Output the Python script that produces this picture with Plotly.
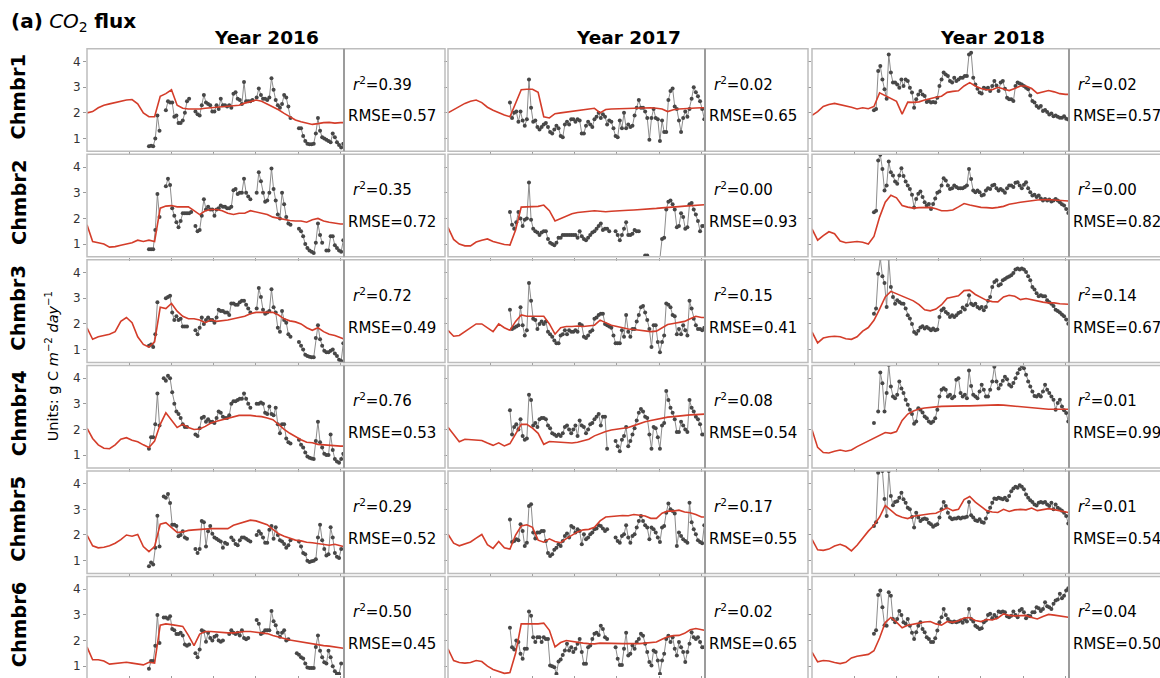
import plotly.graph_objects as go

FIG_W, FIG_H = 1160, 678

YEAR_TITLES = ["Year 2016", "Year 2017", "Year 2018"]
CHAMBERS = ["Chmbr1", "Chmbr2", "Chmbr3", "Chmbr4", "Chmbr5", "Chmbr6"]

# goodness-of-fit statistics per chamber (rows) for each year
R2_2016 = [0.39, 0.35, 0.72, 0.76, 0.29, 0.50]
R2_2017 = [0.02, 0.00, 0.15, 0.08, 0.17, 0.02]
R2_2018 = [0.02, 0.00, 0.14, 0.01, 0.01, 0.04]
RMSE_2016 = [0.57, 0.72, 0.49, 0.53, 0.52, 0.45]
RMSE_2017 = [0.65, 0.93, 0.41, 0.54, 0.55, 0.65]
RMSE_2018 = [0.57, 0.82, 0.67, 0.99, 0.54, 0.50]

# day-of-year sampling of observations and of the model output
OBS_DAYS = list(range(88, 365, 3))
MODEL_DAYS = list(range(0, 361, 8)) + [364]

X_TICKS = [60, 120, 180, 240, 300, 360]
Y_TICKS = [1, 2, 3, 4]

# ---------------- 2016 ----------------
MOD_2016_C1 = [2.0, 2.05, 2.2, 2.3, 2.35, 2.4, 2.45, 2.5, 2.52, 2.35,
               2.0, 1.85, 1.85, 2.65, 2.75, 2.9, 2.3, 2.18, 2.15, 2.15,
               2.15, 2.18, 2.2, 2.22, 2.22, 2.25, 2.28, 2.3, 2.38, 2.45,
               2.5, 2.45, 2.35, 2.25, 2.12, 1.98, 1.85, 1.72, 1.65, 1.6,
               1.55, 1.58, 1.62, 1.63, 1.6, 1.62, 1.62]
OBS_2016_C1 = [0.7, 0.72, 0.7, 1.0, 1.9, 1.3, None, None, 2.1, 2.45,
               2.4, 2.4, 1.85, 1.9, 1.6, 1.6, 1.7, 2.0, 2.45, 2.55,
               None, None, 2.05, 1.95, 1.9, 2.3, 2.7, 2.4, 2.35, 2.3,
               2.05, 2.05, 2.3, 2.15, 2.55, 2.3, 2.3, 2.25, 2.3, 2.2,
               2.75, 2.8, 2.55, 2.5, 2.35, 3.2, 2.45, 2.45, 2.45, 2.5,
               None, 2.6, 2.95, 2.7, 2.55, 2.55, 2.5, 2.6, 3.35, 2.9,
               2.5, 2.3, 2.2, 2.35, 2.7, 2.6, 2.25, 1.8, None, None,
               None, 1.4, 1.4, 1.1, 0.9, 0.8, 0.78, 0.78, 0.8, 1.2,
               1.8, 1.3, 1.05, 1.0, 0.95, 0.9, 0.85, 1.2, 1.05, 0.85,
               0.75, 0.65, 0.8]

MOD_2016_C2 = [1.75, 1.1, 1.05, 1.0, 0.88, 0.9, 0.95, 1.0, 1.05, 1.15,
               1.1, 1.15, 1.1, 2.4, 2.48, 2.5, 2.45, 2.45, 2.45, 2.3,
               2.15, 2.3, 2.35, 2.35, 2.3, 2.2, 2.15, 2.2, 2.2, 2.3,
               2.25, 2.2, 2.15, 2.05, 2.0, 1.95, 1.92, 1.9, 1.9, 1.85,
               1.95, 2.0, 1.9, 1.85, 1.8, 1.78, 1.78]
OBS_2016_C2 = [0.8, 0.8, 0.8, 1.55, 2.95, 2.05, None, None, 3.25, 3.55,
               3.3, 2.4, 2.1, 1.85, 1.65, 1.9, 2.2, 2.2, 2.2, 2.2,
               2.25, None, 1.7, 1.5, 1.55, 2.1, 2.75, 2.35, 2.45, 2.35,
               2.35, 2.1, 2.35, 2.4, 2.5, 2.45, 2.45, 2.4, 2.4, 2.45,
               3.1, 3.15, 2.95, 3.0, 3.0, 3.55, 3.0, 2.85, 2.75, None,
               None, 3.0, 3.8, 3.45, 3.0, 2.65, 2.7, 3.0, 3.95, 3.15,
               2.7, 2.15, 2.0, 3.0, 2.55, 2.05, 1.8, 1.75, None, None,
               None, 1.6, 1.5, 1.3, 1.0, 0.85, 0.75, 0.7, 0.65, 1.05,
               1.8, 1.35, 1.05, None, 0.75, 0.75, 1.3, 1.3, 0.95, 0.85,
               0.75, 0.7, 1.15]

MOD_2016_C3 = [1.85, 1.4, 1.5, 1.55, 1.6, 1.7, 2.1, 2.25, 2.05, 1.5,
               1.2, 1.1, 1.3, 2.65, 2.6, 2.8, 2.5, 2.3, 2.2, 2.2,
               2.15, 2.05, 2.15, 2.1, 2.12, 2.15, 2.2, 2.25, 2.3, 2.4,
               2.45, 2.45, 2.45, 2.45, 2.35, 2.2, 2.12, 2.08, 2.0, 1.85,
               1.75, 1.85, 1.7, 1.6, 1.55, 1.45, 1.42]
OBS_2016_C3 = [1.15, 1.2, 1.1, 1.6, 2.85, None, None, None, 3.0, 3.05,
               3.1, 2.45, 2.15, 2.3, 2.15, 2.2, 1.9, 1.9, 1.9, None,
               None, None, 1.75, 1.6, 1.85, 2.25, 2.0, 2.15, 2.25, 2.15,
               2.15, 2.05, 2.25, 2.55, 2.5, 2.5, 2.45, 2.45, 2.35, 2.8,
               2.8, 2.75, 2.75, 2.85, 2.9, 2.9, 2.75, 2.6, 2.45, None,
               None, 2.6, 3.4, 3.05, 2.55, 2.4, 2.45, 2.5, 3.35, 2.65,
               2.45, 1.85, 1.7, 2.5, 2.15, 2.05, 1.6, 1.5, None, None,
               None, 1.3, 1.15, 1.0, 0.8, 0.75, 0.72, 0.7, 0.7, 1.45,
               1.95, 1.4, 1.15, 0.95, 0.9, 0.9, 0.95, 1.0, 0.85, 0.75,
               0.6, 0.55, 1.25]

MOD_2016_C4 = [2.05, 1.65, 1.4, 1.27, 1.25, 1.4, 1.62, 1.68, 1.58, 1.52,
               1.4, 1.3, 1.55, 2.2, 2.65, 2.35, 2.08, 2.2, 2.08, 2.0,
               2.02, 2.12, 2.25, 2.32, 2.38, 2.45, 2.52, 2.55, 2.55, 2.55,
               2.52, 2.5, 2.45, 2.38, 2.2, 2.0, 1.85, 1.72, 1.6, 1.5,
               1.48, 1.42, 1.4, 1.37, 1.35, 1.35, 1.35]
OBS_2016_C4 = [1.25, 1.7, 1.7, 2.2, 3.4, 2.15, None, 4.0, 3.9, 4.1,
               4.0, 3.45, 3.0, 2.7, 2.6, 2.45, 2.2, 2.1, 2.1, None,
               None, None, 1.8, 1.75, 2.05, 2.45, 2.5, 2.3, 2.4, 2.3,
               2.3, 2.25, 2.45, 2.7, 2.65, 2.5, 2.45, 2.45, 2.55, 3.0,
               3.1, 3.1, 3.15, 3.2, 3.2, 3.4, 3.2, 3.0, 2.85, None,
               None, 3.0, 3.0, 3.05, 3.0, 2.65, 2.6, 2.9, 2.6, 2.55,
               2.85, 2.2, 1.85, 2.2, 2.2, 1.65, 1.5, 1.45, None, None,
               None, 1.6, 1.4, 1.3, 1.1, 0.95, 0.9, 0.87, 0.85, 1.55,
               2.3, 1.5, 1.3, 1.05, 1.0, 1.0, 1.8, 1.2, 0.85, 0.75,
               0.7, 0.85, 1.05]

MOD_2016_C5 = [2.0, 1.58, 1.5, 1.52, 1.58, 1.68, 1.82, 2.0, 1.95, 2.02,
               1.55, 1.35, 1.55, 2.42, 2.48, 2.3, 2.1, 2.12, 2.18, 2.2,
               2.22, 2.24, 2.25, 2.25, 2.25, 2.25, 2.38, 2.45, 2.52, 2.58,
               2.55, 2.48, 2.4, 2.22, 2.05, 1.95, 1.88, 1.8, 1.77, 1.72,
               1.7, 1.66, 1.63, 1.6, 1.64, 1.57, 1.55]
OBS_2016_C5 = [0.78, 0.93, 0.85, 1.5, 2.75, 1.55, None, 3.5, 3.45, 3.6,
               3.25, 2.4, 2.4, 2.35, 1.95, 2.0, 2.15, 1.9, 1.85, None,
               None, None, 1.45, 1.3, 1.45, 2.55, 2.5, 1.55, 2.15, 2.35,
               2.05, 1.9, 1.85, 1.8, 1.75, 1.5, 1.7, 1.65, None, 1.9,
               1.8, 1.65, 1.6, 1.8, 1.9, 1.9, 1.85, 1.8, 1.75, None,
               None, 2.0, 2.15, 2.05, 1.9, 1.7, 1.7, 2.2, 2.35, 1.85,
               2.3, 2.0, 1.8, 1.75, 1.65, 1.5, 1.6, 1.8, None, None,
               None, 1.75, 1.55, 1.3, 1.25, 1.0, 0.95, 0.98, 1.0, 1.05,
               1.9, 2.4, 1.8, 1.45, 1.2, 1.25, 2.3, 1.9, 1.3, 1.15,
               1.1, 1.45, None]

MOD_2016_C6 = [1.75, 1.25, 1.25, 1.2, 1.08, 1.1, 1.13, 1.15, 1.12, 1.08,
               1.05, 1.15, 1.12, 2.6, 2.65, 2.62, 2.58, 2.55, 2.2, 1.8,
               2.25, 2.35, 2.35, 2.33, 2.3, 2.3, 2.3, 2.33, 2.35, 2.35,
               2.33, 2.3, 2.27, 2.2, 2.15, 2.08, 2.02, 1.98, 1.95, 1.9,
               1.85, 1.83, 1.8, 1.78, 1.75, 1.72, 1.7]
OBS_2016_C6 = [0.9, 1.2, 1.2, 1.8, 3.0, 1.9, None, 2.9, 2.9, 2.85,
               2.95, 2.45, 2.4, 2.25, 2.25, 2.3, 2.2, 1.85, 1.8, 1.85,
               None, None, 1.5, 1.35, 1.65, 2.4, 2.35, 1.95, 2.3, 2.1,
               2.0, 2.15, 2.2, 2.0, 1.95, 2.0, None, None, 2.25, 2.4,
               2.3, 2.25, 2.3, 2.2, 2.4, 2.1, 2.05, 2.1, None, None,
               None, 2.8, 2.65, 2.25, 2.3, 2.4, 2.4, 2.4, 3.15, 2.75,
               2.6, 2.3, 2.15, 2.3, 2.4, 2.0, 2.05, None, None, None,
               1.5, 1.45, 1.35, 1.3, 1.1, 0.95, 0.93, 0.93, 0.93, 1.75,
               2.2, 1.6, 1.35, 1.15, 1.1, 1.6, 1.35, 1.0, 0.8, 0.7,
               0.7, 1.1, None]

# ---------------- 2017 ----------------
MOD_2017_C1 = [2.0, 2.12, 2.27, 2.37, 2.45, 2.5, 2.4, 2.22, 2.1, 2.0,
               1.92, 1.85, 2.35, 2.9, 2.92, 2.92, 2.8, 1.85, 1.8, 1.97,
               2.0, 2.03, 2.06, 2.1, 2.12, 2.15, 2.18, 2.0, 2.13, 2.15,
               2.16, 2.16, 2.16, 2.18, 2.2, 2.2, 2.2, 2.18, 2.15, 2.05,
               2.12, 2.15, 2.17, 2.18, 2.19, 2.2, 2.2]
OBS_2017_C1 = [2.4, 1.8, 2.0, 2.05, 1.65, 2.05, 1.7, 1.5, 1.75, 3.3,
               2.2, 1.65, 1.7, 1.45, 1.35, 1.45, 1.55, 1.6, 1.45, 1.25,
               1.2, 1.35, 1.5, 1.4, 1.1, 1.05, 1.55, 1.65, 1.55, 1.75,
               1.75, 1.65, 1.75, 1.7, 1.2, 1.2, 1.5, 1.65, 1.55, 1.45,
               1.75, 1.85, 2.0, 1.8, 1.95, 1.85, 1.55, 1.7, 1.65, 1.4,
               1.1, 1.05, 1.7, 1.4, 2.0, 1.4, 1.55, 1.45, 1.5, 1.9,
               2.2, 2.5, 2.2, 2.2, 2.05, 1.8, 0.95, 1.8, 2.15, 1.8,
               1.75, 0.9, 1.7, 1.25, 1.25, 2.5, 2.85, 2.95, 2.25, 2.15,
               1.7, 1.25, 1.8, 2.05, 1.85, 2.15, 2.55, 3.0, 2.8, 2.65,
               2.45, 2.15, 1.75]

MOD_2017_C2 = [1.65, 1.18, 1.0, 0.93, 0.93, 1.08, 1.15, 1.2, 1.1, 1.04,
               0.98, 0.96, 1.55, 2.44, 2.45, 2.46, 2.47, 2.52, 2.3, 1.9,
               2.0, 2.11, 2.18, 2.23, 2.26, 2.28, 2.3, 2.28, 2.26, 2.28,
               2.3, 2.3, 2.32, 2.33, 2.34, 2.36, 2.38, 2.39, 2.41, 2.42,
               2.44, 2.46, 2.48, 2.5, 2.51, 2.53, 2.53]
OBS_2017_C2 = [2.25, 1.75, 1.6, 1.85, 2.25, 2.0, 1.7, 1.95, 2.0, 3.4,
               1.95, 1.6, 1.5, 1.45, 1.35, 1.45, 1.5, 1.5, 1.2, 1.05,
               1.0, 0.95, 1.05, 1.25, 1.25, 1.35, 1.35, 1.35, 1.35, 1.35,
               1.35, 1.35, 1.25, 1.5, 1.3, 1.2, 1.15, 1.25, 1.35, 1.45,
               1.5, 1.6, 1.7, 1.8, 1.55, 1.6, 1.6, 1.5, None, None,
               1.5, 1.35, 1.15, 1.35, 1.6, 1.85, 1.35, 1.35, 1.4, 1.55,
               1.5, 1.5, None, None, 0.55, 0.55, 0.4, 0.3, 0.3, 0.3,
               0.3, 0.45, 1.2, 1.25, 2.35, 2.65, 2.7, 2.55, 2.35, 1.65,
               1.7, 2.2, 2.05, 1.6, 1.65, 2.55, 2.6, 2.35, 2.15, 1.9,
               1.5, 1.7, 1.7]

MOD_2017_C3 = [1.75, 1.52, 1.55, 1.7, 1.85, 2.0, 2.0, 1.85, 1.7, 2.0,
               1.85, 1.75, 2.1, 2.35, 2.3, 2.3, 2.3, 2.3, 2.0, 1.6,
               1.85, 1.9, 1.9, 1.92, 1.9, 1.92, 1.95, 2.15, 2.05, 1.95,
               1.9, 1.85, 1.8, 1.78, 1.75, 1.72, 1.7, 1.72, 1.85, 1.98,
               2.02, 2.05, 2.1, 2.2, 2.3, 2.25, 2.25]
OBS_2017_C3 = [2.55, 1.8, 1.85, 1.9, 1.95, 2.65, 1.95, 1.55, 1.75, 3.6,
               2.9, 2.2, 2.15, 1.8, 2.0, 2.1, 2.0, 2.1, 1.7, 1.6,
               1.5, 1.35, 1.25, 1.25, 1.55, 1.6, 1.75, 1.6, 1.75, 1.7,
               1.7, 1.75, 1.7, 2.0, 1.95, 1.5, 1.45, 1.55, 1.7, 1.75,
               2.2, 2.25, 2.35, 2.4, 2.4, 2.0, 1.95, 1.9, 1.85, 1.55,
               1.25, 1.25, 1.25, 1.75, 1.5, 2.35, 1.7, 1.5, 1.8, 1.8,
               2.1, 2.35, 2.65, 2.7, 2.45, 2.15, 1.8, 1.1, 1.95, 1.95,
               1.3, 0.9, 1.3, 1.55, 2.8, 2.75, 2.65, 2.35, 2.3, 1.6,
               1.8, 1.6, 1.95, 1.75, 1.55, 2.9, 2.6, 2.2, 1.95, 1.8,
               1.8, 1.75, 1.85]

MOD_2017_C4 = [2.09, 1.78, 1.52, 1.62, 1.6, 1.58, 1.57, 1.47, 1.38, 1.48,
               1.36, 1.45, 1.8, 2.2, 2.2, 2.05, 1.85, 1.42, 1.53, 1.52,
               1.5, 1.48, 1.47, 1.5, 1.55, 1.62, 1.75, 1.85, 1.92, 1.98,
               2.02, 2.04, 2.08, 2.15, 2.24, 2.3, 2.35, 2.4, 2.45, 2.48,
               2.5, 2.53, 2.55, 2.57, 2.58, 2.6, 2.6]
OBS_2017_C4 = [2.75, 1.8, 2.1, 2.2, 2.0, 2.4, 1.75, 1.6, 1.65, 3.35,
               3.15, 2.15, 2.25, 2.1, 2.4, 2.45, 2.45, 2.4, 2.15, 2.05,
               1.85, 1.8, 1.75, 1.8, 1.75, 1.85, 2.1, 2.15, 2.0, 1.85,
               2.0, 2.15, 1.75, 2.35, 2.15, 2.1, 1.85, 2.0, 2.2, 2.25,
               2.4, 2.5, 2.6, 2.15, 2.5, 2.5, 1.25, None, None, None,
               1.55, 1.35, 1.15, 1.6, 1.75, 2.1, 1.35, 1.55, 1.8, 2.05,
               2.35, 2.65, 2.8, 2.7, 2.5, 2.45, 1.8, 1.25, 2.1, 2.05,
               1.7, 1.25, 2.15, 2.25, 3.5, 3.15, 2.85, 2.65, 2.4, 1.9,
               1.9, 2.3, 2.15, 2.0, 1.9, 3.15, 2.85, 2.7, 2.5, 2.4,
               2.2, 1.8, 1.8]

MOD_2017_C5 = [2.03, 1.68, 1.58, 1.64, 1.73, 1.88, 2.02, 1.62, 1.48, 1.75,
               1.5, 1.45, 2.0, 2.35, 2.4, 2.3, 1.8, 1.72, 1.85, 1.75,
               1.7, 1.86, 2.0, 2.12, 2.2, 2.22, 2.3, 2.55, 2.7, 2.73,
               2.75, 2.76, 2.75, 2.8, 2.77, 2.74, 2.65, 2.65, 2.85, 2.93,
               2.93, 2.97, 2.9, 2.87, 2.8, 2.7, 2.7]
OBS_2017_C5 = [2.6, 1.73, 1.77, 1.83, 1.8, 2.42, 2.16, 1.57, 1.7, 3.13,
               3.2, 2.1, 1.86, 2.1, 2.1, 2.16, 2.16, 1.77, 1.3, 1.18,
               1.25, 1.42, 1.5, 1.64, 1.57, 1.77, 1.96, 2.06, 1.9, 2.35,
               2.29, 2.1, 2.22, 2.16, 1.64, 2.03, 1.83, 1.9, 2.03, 2.1,
               2.22, 2.25, 2.38, 2.35, 2.25, 2.16, 2.22, None, None, None,
               1.9, 1.77, 1.7, 1.96, 2.03, 2.38, 1.9, 1.7, 1.96, 2.03,
               2.29, 2.55, 2.74, 2.55, 2.38, 2.29, 1.83, 2.29, 2.22, 2.1,
               1.9, 1.73, 2.29, 2.35, 2.87, 3.23, 3.0, 2.94, 2.84, 1.57,
               2.1, 1.96, 1.83, 1.77, 1.7, 3.26, 2.5, 2.22, 2.03, 1.8,
               1.73, 1.68, 2.38]

MOD_2017_C6 = [1.68, 1.22, 1.14, 1.12, 1.14, 1.22, 1.18, 1.0, 0.87, 0.8,
               0.72, 0.75, 1.5, 2.65, 2.65, 2.65, 2.65, 2.68, 2.4, 1.75,
               1.92, 2.0, 1.96, 1.93, 1.9, 1.88, 1.87, 1.9, 1.89, 1.89,
               1.89, 1.88, 1.88, 1.87, 1.88, 1.9, 1.92, 1.94, 2.05, 2.15,
               2.19, 2.2, 2.28, 2.42, 2.47, 2.43, 2.4]
OBS_2017_C6 = [2.5, 1.74, 1.65, 2.0, 1.94, 1.48, 1.29, 1.68, 1.68, 3.13,
               2.97, 2.13, 1.94, 2.13, 2.13, 1.94, 2.13, 2.06, 2.06, 1.03,
               1.0, 0.96, 0.7, 1.18, 1.26, 1.44, 1.61, 1.87, 1.61, 1.74,
               1.55, 1.68, 1.87, 2.06, 1.55, 1.09, 1.09, 1.74, 1.81, 2.06,
               2.26, 2.3, 2.22, 2.58, 2.45, 2.13, 2.06, None, None, None,
               1.74, 1.29, 1.05, 1.05, 1.68, 2.3, 1.42, 1.48, 1.81, 1.68,
               1.94, 2.06, 2.26, 2.19, 1.87, 1.55, 1.16, 1.03, 1.61, 1.55,
               1.22, 0.7, 1.22, 1.48, 2.06, 2.19, 1.94, 2.13, 1.68, 1.42,
               1.94, 1.74, 1.55, 1.16, 1.55, 1.87, 2.32, 2.13, 2.06, 2.13,
               1.94, 1.74, 1.74]

# ---------------- 2018 ----------------
MOD_2018_C1 = [1.9, 2.05, 2.25, 2.33, 2.37, 2.33, 2.28, 2.22, 2.15, 2.2,
               2.16, 2.25, 2.78, 2.66, 2.56, 2.45, 1.95, 2.42, 2.41, 2.43,
               2.5, 2.57, 2.61, 2.65, 2.8, 2.84, 2.86, 3.05, 3.18, 3.05,
               2.95, 2.9, 2.9, 3.0, 2.95, 2.87, 2.95, 3.05, 3.05, 2.95,
               2.76, 2.8, 2.87, 2.82, 2.75, 2.72, 2.72]
OBS_2018_C1 = [2.1, 2.15, 3.63, 3.83, 3.3, 2.92, 2.55, 4.28, 3.57, 3.18,
               3.18, 3.11, 2.98, 3.3, 3.05, 3.3, 3.24, 2.98, 2.79, 2.2,
               2.53, 2.72, 2.85, 2.72, 2.66, 2.42, 2.46, 2.4, 2.42, 2.4,
               2.59, 3.05, 3.3, 3.57, 3.5, 3.44, 3.24, 3.18, 3.37, 3.24,
               3.3, 3.37, 3.37, 3.44, 3.44, 4.28, 4.35, 3.37, 3.11, 2.94,
               2.79, 2.76, 2.98, 2.94, 2.98, 2.85, 3.05, 3.24, 3.07, 2.85,
               3.18, 3.24, 2.94, 2.59, 2.53, 2.53, 2.46, 3.05, 3.18, 3.15,
               3.11, 3.05, 2.98, 2.92, 2.68, 2.46, 2.4, 2.27, 2.2, 2.27,
               2.07, 2.11, 2.03, 1.94, 1.98, 1.87, 1.9, 1.85, 1.81, 1.81,
               1.87, 1.77, 1.74]

MOD_2018_C2 = [1.59, 1.15, 1.33, 1.48, 1.4, 1.12, 1.05, 1.08, 1.1, 1.07,
               1.0, 1.3, 2.05, 2.63, 2.9, 2.8, 2.5, 2.44, 2.4, 2.42,
               2.43, 2.43, 2.38, 2.3, 2.3, 2.33, 2.45, 2.58, 2.52, 2.46,
               2.43, 2.42, 2.4, 2.43, 2.47, 2.55, 2.6, 2.63, 2.66, 2.7,
               2.72, 2.73, 2.74, 2.72, 2.7, 2.68, 2.68]
OBS_2018_C2 = [2.24, 2.3, 4.26, 4.48, 3.93, 3.09, 3.28, 4.22, 3.8, 3.67,
               3.44, 3.35, 3.67, 3.96, 3.65, 3.44, 3.28, 3.15, 2.92, 2.43,
               2.76, 2.96, 3.05, 2.83, 2.63, 2.5, 2.56, 2.37, 2.56, 2.78,
               3.0, 3.05, 3.28, 3.57, 3.48, 3.28, 3.15, 3.18, 3.28, 3.22,
               3.18, 3.18, 3.18, 3.22, 3.28, 3.93, 3.54, 3.09, 3.02, 3.09,
               3.02, 2.89, 2.92, 3.09, 3.18, 3.15, 3.28, 3.31, 3.18, 3.09,
               3.15, 3.09, 3.0, 3.18, 3.28, 3.28, 3.22, 3.39, 3.41, 3.28,
               3.18, 3.31, 3.41, 3.18, 3.02, 2.89, 2.92, 2.83, 2.89, 2.78,
               2.7, 2.76, 2.7, 2.74, 2.66, 2.7, 2.76, 2.7, 2.63, 2.55,
               2.5, 2.37, 2.21]

MOD_2018_C3 = [1.69, 1.26, 1.45, 1.5, 1.52, 1.5, 1.42, 1.4, 1.5, 1.72,
               1.86, 2.14, 2.58, 3.05, 3.27, 3.18, 3.08, 3.0, 2.9, 2.75,
               2.55, 2.51, 2.58, 2.75, 3.0, 3.05, 3.1, 3.3, 3.32, 3.15,
               3.02, 2.92, 2.87, 2.86, 3.05, 3.12, 3.08, 2.95, 2.99, 2.94,
               2.88, 2.85, 2.82, 2.82, 2.79, 2.77, 2.77]
OBS_2018_C3 = [2.4, 2.6, 3.96, 4.55, 3.86, 3.6, 2.66, 4.55, 3.44, 3.05,
               2.79, 2.92, 2.86, 2.8, 2.79, 2.6, 2.34, 2.21, 2.0, 1.69,
               1.62, 1.73, 1.86, 1.91, 1.82, 1.88, 1.82, 1.75, 1.82, 1.75,
               1.78, 2.27, 2.53, 2.6, 2.47, 2.4, 2.27, 2.34, 2.27, 2.34,
               2.43, 2.47, 2.64, 2.56, 2.73, 3.12, 2.79, 2.73, 2.79, 2.66,
               2.6, 2.66, 2.53, 2.66, 2.9, 3.05, 3.44, 3.64, 3.7, 3.5,
               3.55, 3.7, 3.75, 3.81, 3.85, 3.9, 3.99, 4.12, 4.16, 4.12,
               4.16, 4.12, 4.03, 3.86, 3.7, 3.44, 3.34, 3.2, 3.08, 3.12,
               3.08, 3.08, 2.92, 2.85, 2.79, 2.7, 2.55, 2.5, 2.45, 2.37,
               2.3, 2.17, 2.01]

MOD_2018_C4 = [1.99, 1.3, 1.1, 1.08, 1.15, 1.2, 1.15, 1.2, 1.33, 1.44,
               1.53, 1.64, 1.76, 1.88, 1.85, 1.92, 2.35, 2.6, 2.72, 2.8,
               2.84, 2.87, 2.88, 2.9, 2.91, 2.92, 2.92, 2.92, 2.92, 2.93,
               2.95, 2.95, 2.96, 2.96, 2.95, 2.93, 2.9, 2.87, 2.85, 2.83,
               2.82, 2.8, 2.79, 2.79, 2.79, 2.79, 2.79]
OBS_2018_C4 = [2.25, None, 2.7, 4.22, 3.8, 2.7, 3.42, 4.52, 3.68, 3.29,
               3.22, 3.35, 3.87, 3.6, 3.42, 3.16, 2.96, 2.77, 2.6, 2.22,
               2.31, 2.83, 2.77, 2.66, 2.51, 2.44, 2.31, 2.25, 2.31, 2.44,
               2.77, 3.29, 3.55, 3.61, 3.55, 3.29, 3.35, 3.22, 3.29, 3.94,
               4.0, 3.42, 3.29, 3.35, 3.22, 4.3, 3.7, 3.35, 3.29, 3.22,
               3.48, 3.74, 3.55, 3.29, 3.29, 3.55, 3.87, 4.45, 3.87, 3.6,
               3.74, 3.9, 4.06, 3.96, 3.74, 3.68, 3.81, 4.0, 4.19, 4.35,
               4.48, 4.39, 4.13, 3.87, 3.68, 3.48, 3.31, 3.29, 3.35, 3.29,
               3.48, 3.74, 3.55, 3.42, 3.29, 3.16, 2.77, 3.03, 3.16, 2.9,
               2.75, 2.64, 2.31]

MOD_2018_C5 = [1.83, 1.42, 1.4, 1.45, 1.57, 1.64, 1.55, 1.38, 1.6, 1.9,
               2.15, 2.38, 2.7, 3.15, 2.95, 2.78, 2.69, 2.64, 2.73, 2.77,
               2.8, 2.83, 2.85, 2.95, 3.06, 2.95, 3.0, 3.38, 3.5, 3.28,
               3.12, 2.95, 2.9, 2.88, 3.0, 2.92, 2.98, 3.0, 2.98, 3.05,
               2.95, 2.99, 3.03, 2.99, 2.94, 2.9, 2.88]
OBS_2018_C5 = [2.35, 2.5, 4.43, 4.7, 4.5, 3.4, 2.74, 4.5, 3.52, 3.16,
               3.29, 3.32, 3.45, 3.65, 3.39, 3.26, 3.06, 3.0, 2.7, 2.29,
               2.87, 2.68, 2.55, 2.61, 2.64, 2.61, 2.48, 2.42, 2.32, 2.38,
               2.42, 2.68, 3.0, 3.29, 3.13, 2.87, 2.68, 2.61, 2.64, 2.64,
               2.68, 2.64, 2.68, 2.68, 2.71, 3.29, 2.77, 2.68, 2.58, 2.55,
               2.61, 2.51, 2.48, 2.64, 2.9, 3.06, 3.26, 3.42, 3.4, 3.45,
               3.42, 3.39, 3.45, 3.36, 3.52, 3.71, 3.81, 3.88, 3.84, 3.94,
               3.88, 3.78, 3.58, 3.45, 3.36, 3.29, 3.19, 3.15, 3.26, 3.29,
               3.26, 3.29, 3.19, 3.13, 3.26, 3.0, 3.19, 3.06, 3.0, 2.95,
               2.87, 2.74, 2.45]

MOD_2018_C6 = [1.55, 1.17, 1.22, 1.2, 1.14, 1.1, 1.15, 1.32, 1.39, 1.43,
               1.46, 1.6, 2.1, 2.7, 2.9, 2.72, 2.5, 2.6, 2.63, 2.68,
               2.72, 2.74, 2.65, 2.6, 2.74, 2.71, 2.77, 2.88, 2.9, 2.78,
               2.74, 2.82, 2.8, 2.88, 3.04, 2.98, 2.96, 2.98, 2.98, 2.9,
               2.84, 2.94, 3.02, 2.99, 2.96, 2.93, 2.91]
OBS_2018_C6 = [2.26, 2.4, 3.78, 3.95, 3.3, 2.6, 2.58, 3.88, 3.75, 2.84,
               2.71, 2.84, 3.15, 3.0, 2.71, 2.65, 2.84, 2.58, 2.3, 2.06,
               2.32, 2.58, 2.71, 2.45, 2.32, 2.13, 2.06, 1.94, 1.94, 2.09,
               2.39, 2.71, 2.91, 3.23, 3.0, 2.84, 2.74, 2.71, 2.74, 2.71,
               2.74, 2.78, 2.69, 2.82, 2.74, 3.23, 2.84, 2.74, 2.58, 2.52,
               2.45, 2.48, 2.71, 2.78, 3.0, 3.04, 2.87, 3.0, 2.9, 3.13,
               3.1, 3.13, 3.1, 2.95, 2.91, 2.97, 3.13, 3.0, 2.91, 3.17,
               3.23, 3.1, 2.87, 2.97, 2.95, 3.1, 3.1, 3.3, 3.26, 3.15,
               3.23, 3.49, 3.34, 3.3, 3.23, 3.43, 3.56, 3.6, 3.82, 3.65,
               3.75, 3.95, 4.04]

OBSERVED = [
    [OBS_2016_C1, OBS_2017_C1, OBS_2018_C1],
    [OBS_2016_C2, OBS_2017_C2, OBS_2018_C2],
    [OBS_2016_C3, OBS_2017_C3, OBS_2018_C3],
    [OBS_2016_C4, OBS_2017_C4, OBS_2018_C4],
    [OBS_2016_C5, OBS_2017_C5, OBS_2018_C5],
    [OBS_2016_C6, OBS_2017_C6, OBS_2018_C6],
]
MODELLED = [
    [MOD_2016_C1, MOD_2017_C1, MOD_2018_C1],
    [MOD_2016_C2, MOD_2017_C2, MOD_2018_C2],
    [MOD_2016_C3, MOD_2017_C3, MOD_2018_C3],
    [MOD_2016_C4, MOD_2017_C4, MOD_2018_C4],
    [MOD_2016_C5, MOD_2017_C5, MOD_2018_C5],
    [MOD_2016_C6, MOD_2017_C6, MOD_2018_C6],
]
R2_BY_YEAR = [R2_2016, R2_2017, R2_2018]
RMSE_BY_YEAR = [RMSE_2016, RMSE_2017, RMSE_2018]

for row in OBSERVED:
    for s in row:
        assert len(s) == len(OBS_DAYS), len(s)
for row in MODELLED:
    for s in row:
        assert len(s) == len(MODEL_DAYS), len(s)

# ---------------- panel geometry (pixels) ----------------
COL_X0 = [87, 448, 812]        # left edge of each time-series box
PLOT_W = 257                   # width of the time-series box
STAT_W = [101, 103, 103]       # width of the statistics box
ROW_TOP = [49, 155, 261, 367, 473, 579]
ROW_H = 103
Y_MAX = 4.5
PX_PER_UNIT = ROW_H / 4.0

FRAME = "#bdbdbd"
DIVIDER = "#9c9c9c"
RED = "#d43d2a"
FONT = "DejaVu Sans"


def px(x):
    return x / FIG_W


def py(y):
    return 1 - y / FIG_H


fig = go.Figure()
shapes = []
annotations = []
layout_axes = {}

for ri in range(6):
    top = ROW_TOP[ri]
    bottom = min(top + ROW_H, FIG_H)
    y_min = Y_MAX - (bottom - top) / PX_PER_UNIT
    for ci in range(3):
        k = ri * 3 + ci + 1
        xname = "x" if k == 1 else f"x{k}"
        yname = "y" if k == 1 else f"y{k}"
        x0 = COL_X0[ci]
        x1 = x0 + PLOT_W

        fig.add_trace(go.Scatter(
            x=OBS_DAYS, y=OBSERVED[ri][ci], mode="lines+markers",
            line=dict(color="#8c8c8c", width=1),
            marker=dict(color="#474747", size=4),
            xaxis=xname, yaxis=yname, showlegend=False, hoverinfo="skip"))
        fig.add_trace(go.Scatter(
            x=MODEL_DAYS, y=MODELLED[ri][ci], mode="lines",
            line=dict(color=RED, width=1.6),
            xaxis=xname, yaxis=yname, showlegend=False, hoverinfo="skip"))

        layout_axes["xaxis" if k == 1 else f"xaxis{k}"] = dict(
            domain=[px(x0), px(x1)], range=[0, 365], anchor=yname,
            tickvals=X_TICKS, ticks="outside", ticklen=3, tickwidth=1,
            tickcolor="#9a9a9a", showticklabels=False, showgrid=False,
            zeroline=False, showline=False, fixedrange=True)
        layout_axes["yaxis" if k == 1 else f"yaxis{k}"] = dict(
            domain=[py(bottom), py(top)], range=[y_min, Y_MAX], anchor=xname,
            tickvals=Y_TICKS, ticks="outside", ticklen=3, tickwidth=1,
            tickcolor="#9a9a9a", showticklabels=(ci == 0),
            tickfont=dict(size=12, color="#333333", family=FONT),
            showgrid=False, zeroline=False, showline=False, fixedrange=True)

        # frames of the time-series box and the statistics box
        shapes.append(dict(type="rect", xref="paper", yref="paper",
                           x0=px(x0), x1=px(x1), y0=py(top + ROW_H), y1=py(top),
                           line=dict(color=FRAME, width=1.5)))
        shapes.append(dict(type="rect", xref="paper", yref="paper",
                           x0=px(x1), x1=px(x1 + STAT_W[ci]), y0=py(top + ROW_H), y1=py(top),
                           line=dict(color=FRAME, width=1.5)))
        shapes.append(dict(type="line", xref="paper", yref="paper",
                           x0=px(x1), x1=px(x1), y0=py(top + ROW_H), y1=py(top),
                           line=dict(color=DIVIDER, width=2)))

        annotations.append(dict(
            text=f"<i>r</i><sup>2</sup>={R2_BY_YEAR[ci][ri]:.2f}",
            x=px(x1 + 7), y=py(top + 35), xref="paper", yref="paper",
            xanchor="left", yanchor="middle", showarrow=False,
            font=dict(size=15, color="#000000", family=FONT)))
        annotations.append(dict(
            text=f"RMSE={RMSE_BY_YEAR[ci][ri]:.2f}",
            x=px(x1 + 2), y=py(top + 68), xref="paper", yref="paper",
            xanchor="left", yanchor="middle", showarrow=False,
            font=dict(size=15, color="#000000", family=FONT)))

    annotations.append(dict(
        text=f"<b>{CHAMBERS[ri]}</b>", x=px(19), y=py(top + 48),
        xref="paper", yref="paper", xanchor="center", yanchor="middle",
        textangle=-90, showarrow=False,
        font=dict(size=19.5, color="#000000", family=FONT)))

for ci in range(3):
    cx = COL_X0[ci] + (PLOT_W + STAT_W[ci]) / 2
    annotations.append(dict(
        text=f"<b>{YEAR_TITLES[ci]}</b>", x=px(cx), y=py(38),
        xref="paper", yref="paper", xanchor="center", yanchor="middle",
        showarrow=False, font=dict(size=18.5, color="#000000", family=FONT)))

annotations.append(dict(
    text="<b>(a)</b> <i>CO</i><sub>2</sub> <b>flux</b>", x=px(9), y=py(22),
    xref="paper", yref="paper", xanchor="left", yanchor="middle",
    showarrow=False, font=dict(size=20, color="#000000", family=FONT)))

annotations.append(dict(
    text="Units: g C <i>m</i><sup>\u22122</sup> <i>day</i><sup>\u22121</sup>",
    x=px(52), y=py(368), xref="paper", yref="paper",
    xanchor="center", yanchor="middle", textangle=-90, showarrow=False,
    font=dict(size=14.5, color="#000000", family=FONT)))

fig.update_layout(
    width=FIG_W, height=FIG_H,
    margin=dict(l=0, r=0, t=0, b=0),
    paper_bgcolor="white", plot_bgcolor="white",
    font=dict(family=FONT),
    shapes=shapes, annotations=annotations,
    **layout_axes)

fig.write_html("out.html")
